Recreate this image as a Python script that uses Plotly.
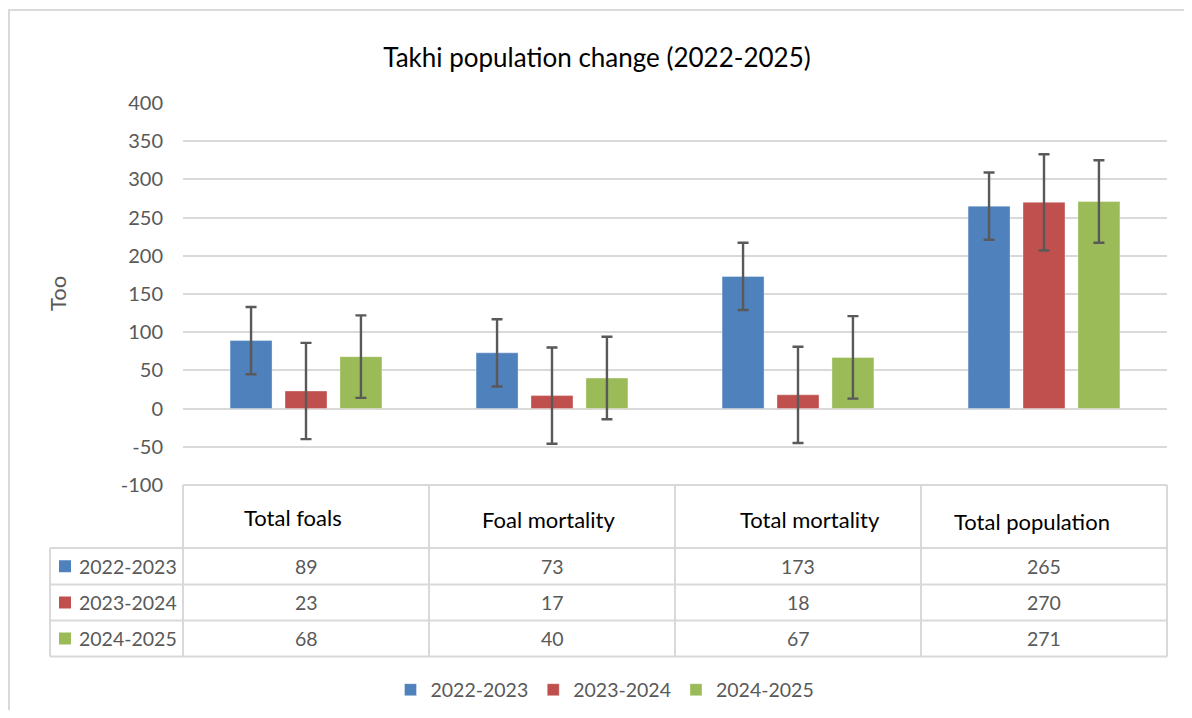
import plotly.graph_objects as go

# ---------------- data ----------------
categories = ["Total foals", "Foal mortality", "Total mortality", "Total population"]
series_names = ["2022-2023", "2023-2024", "2024-2025"]
values_2022_2023 = [89, 73, 173, 265]
values_2023_2024 = [23, 17, 18, 270]
values_2024_2025 = [68, 40, 67, 271]
errors_2022_2023 = [44, 44, 44, 44]
errors_2023_2024 = [63, 63, 63, 63]
errors_2024_2025 = [54, 54, 54, 54]
y_tick_values = [-100, -50, 0, 50, 100, 150, 200, 250, 300, 350, 400]
y_tick_labels = ["-100", "-50", "0", "50", "100", "150", "200", "250", "300", "350", "400"]
title_text = "Takhi population change (2022-2025)"
y_title = "Too"

series_values = [values_2022_2023, values_2023_2024, values_2024_2025]
series_errors = [errors_2022_2023, errors_2023_2024, errors_2024_2025]
colors = ["#4F81BD", "#C0504D", "#9BBB59"]

# ---------------- geometry helpers ----------------
# page body has an 8px margin, so figure coords = screen coords - 8
OFF = 8
W, H = 1192 - 2 * OFF, 718 - 2 * OFF
L, R, T, B = 183, 1167, 103, 485          # plot area in screen pixels
FONT = "Lato"
GRID = "#d9d9d9"
GRAY = "#595959"


def px(x):
    return (x - L) / (R - L)


def py(y):
    return (B - y) / (B - T)


fig = go.Figure()
for name, vals, errs, col in zip(series_names, series_values, series_errors, colors):
    fig.add_trace(go.Bar(
        name=name,
        x=categories,
        y=vals,
        marker=dict(color=col, line=dict(color="rgba(255,255,255,0.35)", width=1)),
        error_y=dict(type="data", array=errs, symmetric=True,
                     color=GRAY, thickness=2.4, width=5.5),
    ))

shapes = []
# outer chart frame
shapes.append(dict(type="rect", xref="paper", yref="paper",
                   x0=px(9), y0=py(10), x1=px(1260), y1=py(800),
                   line=dict(color=GRID, width=2), layer="below"))

# data table lines
n = len(categories)
row_bounds_px = [485, 548, 584.5, 620.5, 656.5]
row_bounds = [py(v) for v in row_bounds_px]
tbl_line = dict(color=GRID, width=2)
shapes.append(dict(type="line", xref="paper", yref="paper",
                   x0=0, x1=1, y0=row_bounds[0], y1=row_bounds[0], line=tbl_line))
for yb in row_bounds[1:]:
    shapes.append(dict(type="line", xref="paper", yref="paper",
                       x0=px(50), x1=1, y0=yb, y1=yb, line=tbl_line))
for j in range(n + 1):
    shapes.append(dict(type="line", xref="paper", yref="paper",
                       x0=j / n, x1=j / n, y0=row_bounds[0], y1=row_bounds[-1], line=tbl_line))
shapes.append(dict(type="line", xref="paper", yref="paper",
                   x0=px(50), x1=px(50), y0=row_bounds[1], y1=row_bounds[-1], line=tbl_line))

annotations = []
header_shift = [-13, -4, 12, -12]
header_y = [517, 520, 519, 521]
for i, cat in enumerate(categories):
    annotations.append(dict(x=i, xref="x", y=py(header_y[i]), yref="paper",
                            xanchor="center", yanchor="middle",
                            text=cat, showarrow=False, xshift=header_shift[i],
                            font=dict(family=FONT, size=22, color="#000000")))

for r, (name, vals, col) in enumerate(zip(series_names, series_values, colors)):
    yc_px = (row_bounds_px[r + 1] + row_bounds_px[r + 2]) / 2
    yc = py(yc_px)
    shapes.append(dict(type="rect", xref="paper", yref="paper",
                       x0=px(59), x1=px(71), y0=py(yc_px + 6), y1=py(yc_px - 6),
                       fillcolor=col, line=dict(width=0)))
    annotations.append(dict(x=px(77), xref="paper", y=yc, yref="paper",
                            xanchor="left", yanchor="middle", text=name, showarrow=False,
                            font=dict(family=FONT, size=19.5, color=GRAY)))
    for i, v in enumerate(vals):
        annotations.append(dict(x=i, xref="x", y=yc, yref="paper",
                                xanchor="center", yanchor="middle",
                                text=str(v), showarrow=False,
                                font=dict(family=FONT, size=19.5, color=GRAY)))

annotations.append(dict(x=px(57), xref="paper", y=py(294), yref="paper",
                        xanchor="center", yanchor="middle",
                        text=y_title, textangle=-90, showarrow=False,
                        font=dict(family=FONT, size=22, color=GRAY)))

fig.update_layout(
    width=W, height=H, autosize=False,
    margin=dict(l=L - OFF, r=W - (R - OFF), t=T - OFF, b=H - (B - OFF), pad=0,
                autoexpand=False),
    paper_bgcolor="white", plot_bgcolor="white",
    title=dict(text=title_text, xref="container", x=(597 - OFF) / W, xanchor="center",
               yref="container", y=1 - (58 - OFF) / H, yanchor="middle",
               font=dict(family=FONT, size=26, color="#000000")),
    barmode="group", bargap=0.33, bargroupgap=0.236,
    showlegend=True,
    legend=dict(orientation="h", xref="paper", x=px(605), xanchor="center",
                y=py(690), yanchor="middle",
                font=dict(family=FONT, size=19.5, color=GRAY), itemwidth=30,
                traceorder="normal"),
    xaxis=dict(showticklabels=False, showgrid=False, zeroline=False, showline=False,
               ticks="", range=[-0.5, n - 0.5]),
    yaxis=dict(range=[-100, 400], tickvals=y_tick_values, ticktext=y_tick_labels,
               showgrid=True, gridcolor=GRID, gridwidth=2, zeroline=False, showline=False,
               ticks="", ticklabelstandoff=19,
               tickfont=dict(family=FONT, size=20, color=GRAY)),
    shapes=shapes,
    annotations=annotations,
)

fig.write_html("out.html")
